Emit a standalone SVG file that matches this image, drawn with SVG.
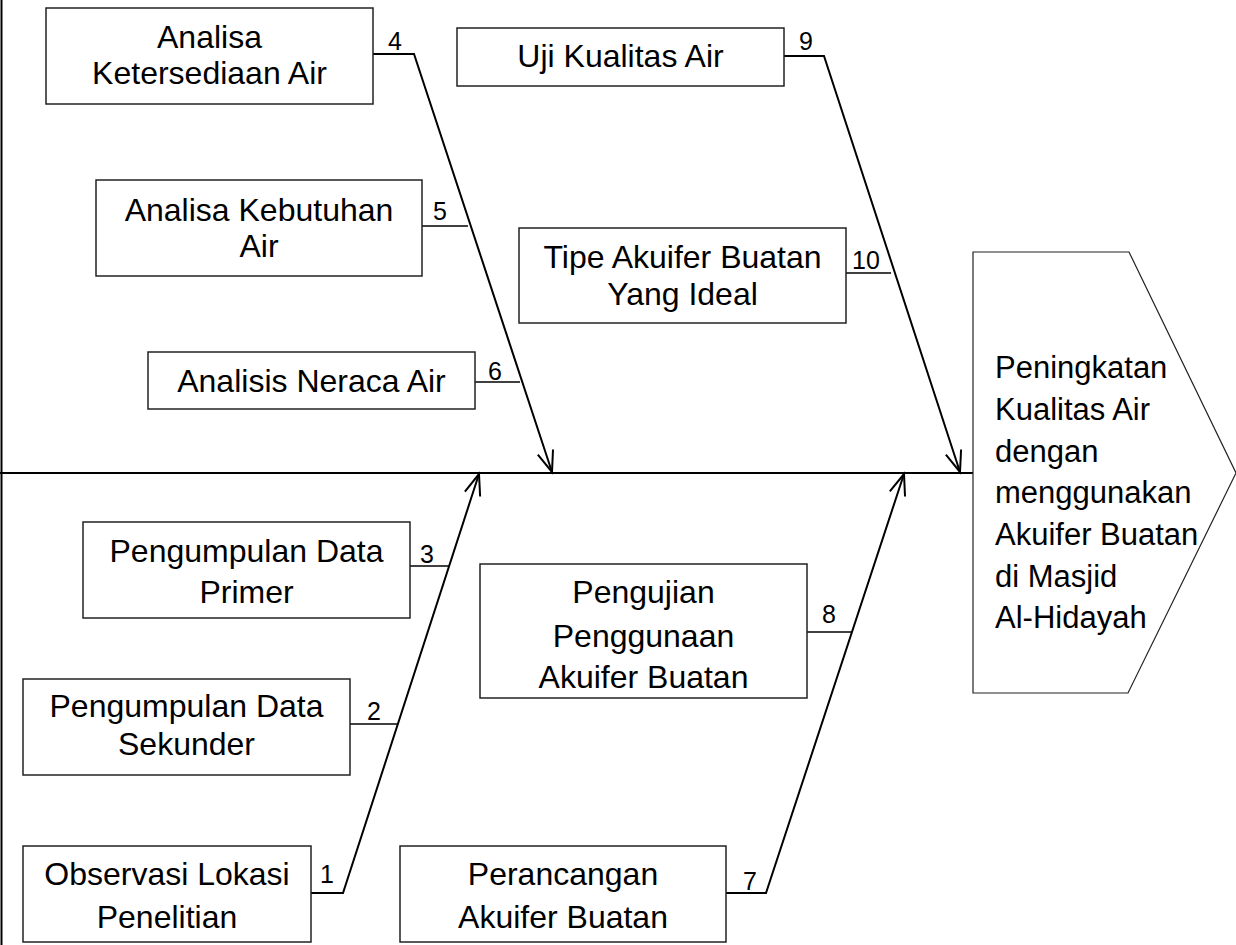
<svg xmlns="http://www.w3.org/2000/svg" width="1236" height="945" viewBox="0 0 1236 945">
<style>
.box{fill:#fff;stroke:#222;stroke-width:1.5}
.t{font-family:"Liberation Sans",Arial,sans-serif;font-size:32px;fill:#000;text-anchor:middle}
.tl{font-family:"Liberation Sans",Arial,sans-serif;font-size:31px;fill:#000}
.n{font-family:"Liberation Sans",Arial,sans-serif;font-size:25px;fill:#000;text-anchor:middle}
.ln{fill:none;stroke:#000;stroke-width:2}
.br{fill:none;stroke:#000;stroke-width:1.6}
</style>
<defs>
<marker id="ah" markerUnits="userSpaceOnUse" markerWidth="30" markerHeight="30" viewBox="-25 -15 30 30" refX="0" refY="0" orient="auto">
<path d="M-21,-8 L0,0 L-21,8" fill="none" stroke="#000" stroke-width="2"/>
</marker>
</defs>
<rect x="0" y="0" width="1236" height="945" fill="#fff"/>
<line x1="1.5" y1="0" x2="1.5" y2="945" class="ln" stroke-width="1.5"/>
<g id="connectors">
<line x1="0" y1="473" x2="973" y2="473" class="ln"/>
<polyline points="373,54 414,54 552,472" class="ln" marker-end="url(#ah)"/>
<line x1="422" y1="226" x2="468" y2="226" class="br"/>
<line x1="475" y1="382" x2="520" y2="382" class="br"/>
<polyline points="784,56 824,56 960,472" class="ln" marker-end="url(#ah)"/>
<line x1="846" y1="273" x2="891" y2="273" class="br"/>
<polyline points="311,893 343,893 479,474" class="ln" marker-end="url(#ah)"/>
<line x1="350" y1="724" x2="397" y2="724" class="br"/>
<line x1="410" y1="566" x2="449" y2="566" class="br"/>
<polyline points="726,893 766,893 904,474" class="ln" marker-end="url(#ah)"/>
<line x1="807" y1="632" x2="852" y2="632" class="br"/>
<text x="395" y="50" class="n">4</text>
<text x="440" y="220" class="n">5</text>
<text x="495" y="380" class="n">6</text>
<text x="806" y="50" class="n">9</text>
<text x="866" y="269" class="n">10</text>
<text x="427" y="563" class="n">3</text>
<text x="374" y="720" class="n">2</text>
<text x="327" y="883" class="n">1</text>
<text x="829" y="623" class="n">8</text>
<text x="750" y="890" class="n">7</text>
</g>
<g id="n4">
<rect x="46" y="8" width="327" height="96" class="box"/>
<text x="209.5" y="48" class="t">Analisa</text>
<text x="209.5" y="84" class="t">Ketersediaan Air</text>
</g>
<g id="n5">
<rect x="96" y="180" width="326" height="96" class="box"/>
<text x="259" y="221" class="t">Analisa Kebutuhan</text>
<text x="259" y="257" class="t">Air</text>
</g>
<g id="n6">
<rect x="148" y="352" width="327" height="57" class="box"/>
<text x="311.5" y="392" class="t">Analisis Neraca Air</text>
</g>
<g id="n9">
<rect x="457" y="28" width="327" height="58" class="box"/>
<text x="620.5" y="67" class="t">Uji Kualitas Air</text>
</g>
<g id="n10">
<rect x="519" y="228" width="327" height="95" class="box"/>
<text x="682.5" y="268" class="t">Tipe Akuifer Buatan</text>
<text x="682.5" y="305" class="t">Yang Ideal</text>
</g>
<g id="n3">
<rect x="83" y="522" width="327" height="96" class="box"/>
<text x="246.5" y="562" class="t">Pengumpulan Data</text>
<text x="246.5" y="603" class="t">Primer</text>
</g>
<g id="n2">
<rect x="23" y="679" width="327" height="96" class="box"/>
<text x="186.5" y="717" class="t">Pengumpulan Data</text>
<text x="186.5" y="755" class="t">Sekunder</text>
</g>
<g id="n1">
<rect x="23" y="846" width="288" height="96" class="box"/>
<text x="167" y="885" class="t">Observasi Lokasi</text>
<text x="167" y="928" class="t">Penelitian</text>
</g>
<g id="n8">
<rect x="480" y="564" width="327" height="134" class="box"/>
<text x="643.5" y="603" class="t">Pengujian</text>
<text x="643.5" y="647" class="t">Penggunaan</text>
<text x="643.5" y="688" class="t">Akuifer Buatan</text>
</g>
<g id="n7">
<rect x="400" y="846" width="326" height="96" class="box"/>
<text x="563" y="885" class="t">Perancangan</text>
<text x="563" y="928" class="t">Akuifer Buatan</text>
</g>
<g id="result">
<polygon points="973,252 1129,252 1236,473 1128,693 973,693" fill="#fff" stroke="#222" stroke-width="1.2"/>
<text x="995" y="378" class="tl">Peningkatan</text>
<text x="995" y="420" class="tl">Kualitas Air</text>
<text x="995" y="462" class="tl">dengan</text>
<text x="995" y="503" class="tl">menggunakan</text>
<text x="995" y="545" class="tl">Akuifer Buatan</text>
<text x="995" y="587" class="tl">di Masjid</text>
<text x="995" y="628" class="tl">Al-Hidayah</text>
</g>
</svg>
